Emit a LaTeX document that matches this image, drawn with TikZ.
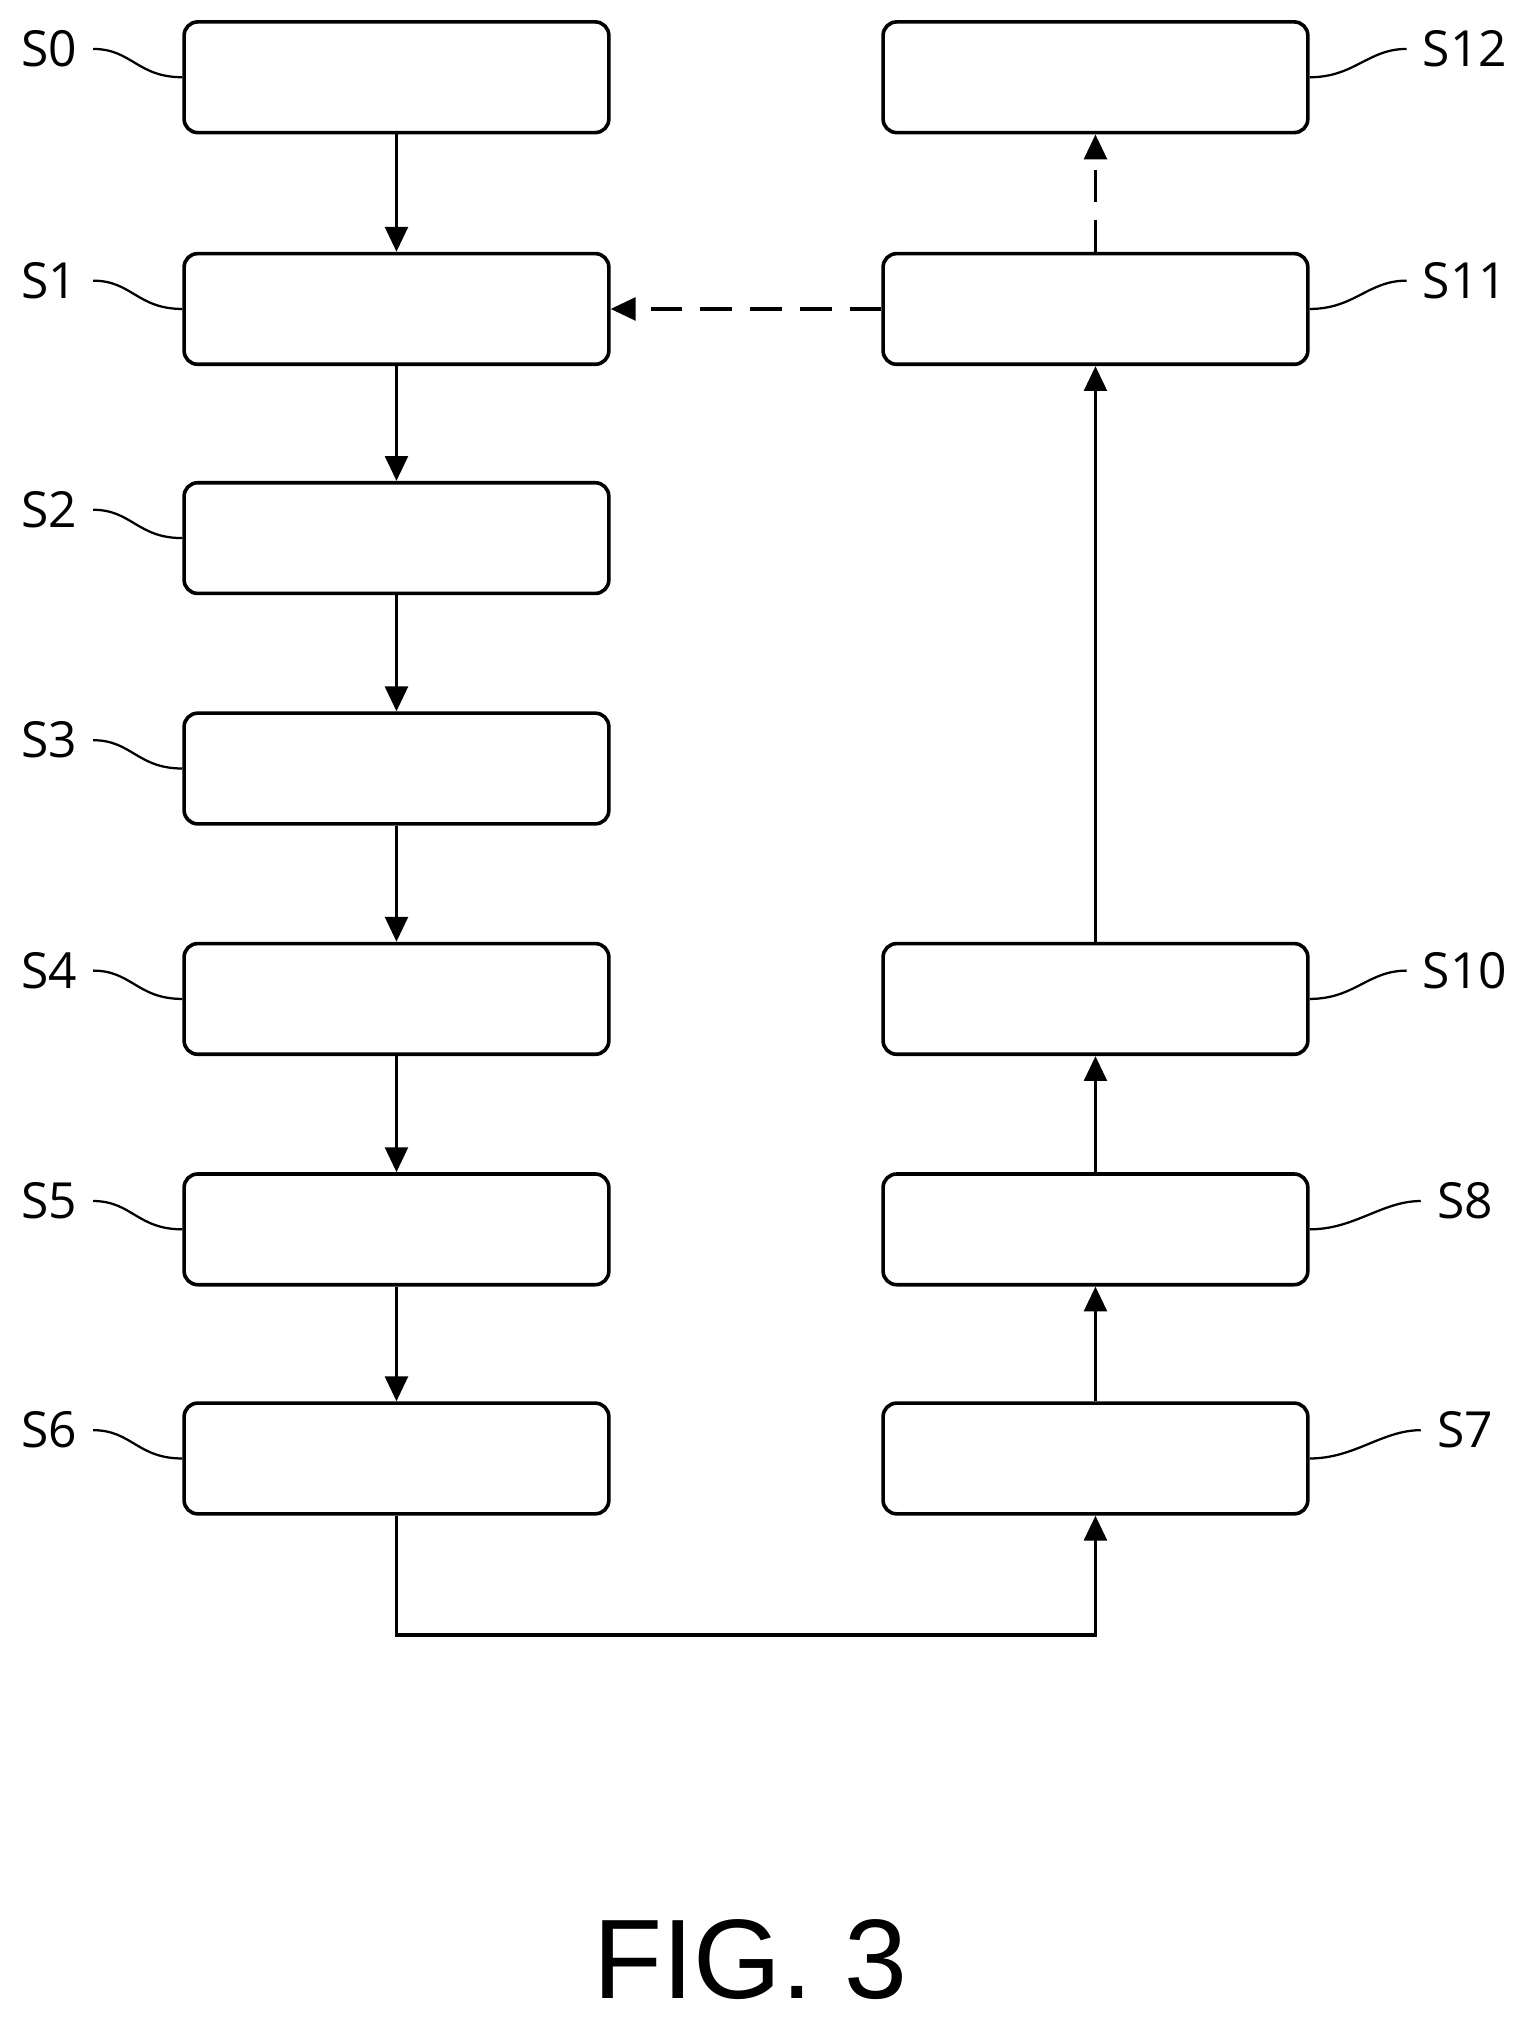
\documentclass[tikz,border=0pt]{standalone}
\usepackage{fontspec}
\setmainfont{Open Sans}
\newfontfamily\figfont{Liberation Sans}
\usetikzlibrary{arrows.meta}

\tikzset{
  stepbox/.style={draw, line width=1.6pt, rounded corners=6pt, minimum width=6.6cm, minimum height=1.72cm, inner sep=0pt},
  flow/.style={line width=1.6pt, -{Triangle[length=11pt,width=10pt]}},
  lbl/.style={font=\fontsize{22}{24}\selectfont, inner sep=1pt},
  lead/.style={line width=1pt}
}

\begin{document}
\begin{tikzpicture}[x=0.02cm, y=-0.02cm]
        \useasboundingbox (0, 0) rectangle (1183, 1570);

        % left column
        \foreach \n/\y in {0/60, 1/240, 2/418, 3/597, 4/776, 5/955, 6/1133} {
            \node[stepbox] (s\n) at (308, \y) {};
            \node[lbl] (l\n) at (38, \y-22) {S\n};
            \draw[lead] ([xshift=6pt]l\n.east) .. controls ++(30,0) and ++(-35,0) .. (s\n.west);
        }

        % right column
        \foreach \n/\y in {12/60, 11/240, 10/776, 8/955, 7/1133} {
            \node[lbl] (s\n) at (851, \y) [stepbox] {};
            \node[lbl] (l\n) at (1138, \y-22) {S\n};
            \draw[lead] (s\n.east) .. controls ++(35,0) and ++(-30,0) .. ([xshift=-6pt]l\n.west);
        }

        \draw[flow] (s0) -- (s1);
        \draw[flow] (s1) -- (s2);
        \draw[flow] (s2) -- (s3);
        \draw[flow] (s3) -- (s4);
        \draw[flow] (s4) -- (s5);
        \draw[flow] (s5) -- (s6);
        \coordinate (turn) at (308, 1270);
        \draw[flow] (s6.south) -- (turn) -| (s7.south);
        \draw[flow] (s7) -- (s8);
        \draw[flow] (s8) -- (s10);
        \draw[flow] (s10) -- (s11);
        \draw[flow, dash pattern=on 14pt off 8pt] (s11.west) -- (s1.east);
        \draw[flow, dash pattern=on 14pt off 8pt] (s11.north) -- (s12.south);

        \node[font=\figfont\fontsize{50}{54}\selectfont] (fig) at (583, 1522) {FIG. 3};
\end{tikzpicture}
\end{document}
